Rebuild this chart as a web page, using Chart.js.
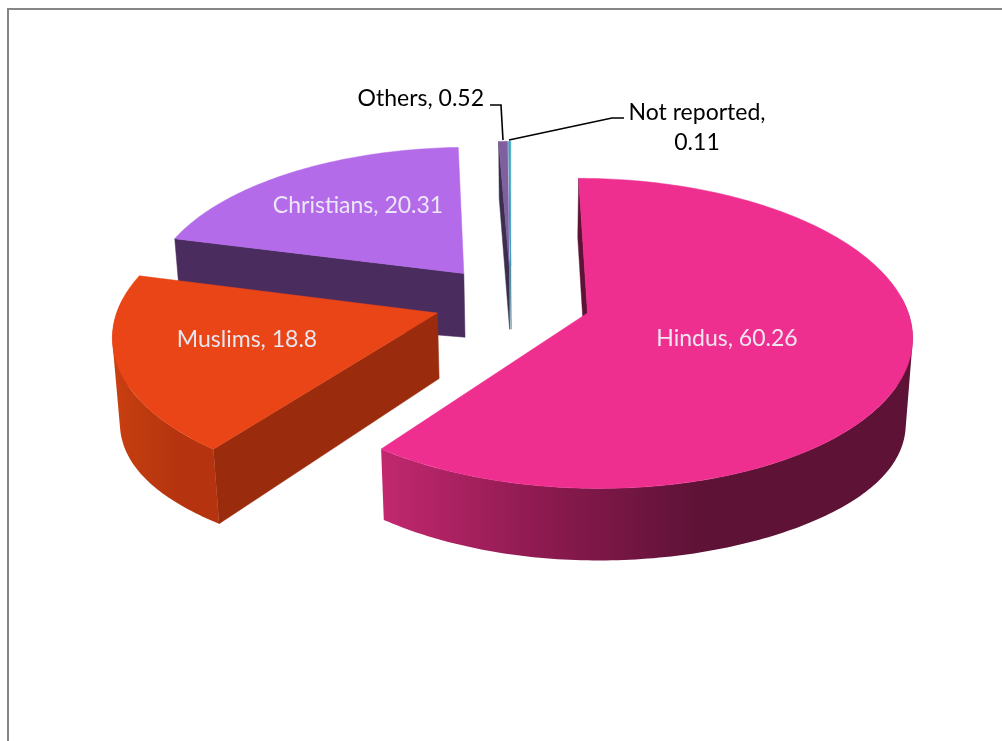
<!DOCTYPE html>
<html>
<head>
<meta charset="utf-8">
<title>Pie</title>
<script src="https://cdn.jsdelivr.net/npm/chart.js@4"></script>
<style>
  html, body { margin: 0; padding: 0; background: #fff; overflow: hidden; }
  #frame { position: absolute; left: 7px; top: 8px; width: 1200px; height: 900px;
           border-left: 2px solid #868686; border-top: 2px solid #868686; }
  #pie { position: absolute; left: 0; top: 0; }
</style>
</head>
<body>
<div id="frame"></div>
<canvas id="pie" width="1002" height="741"></canvas>
<script>
const categories = ['Hindus', 'Muslims', 'Christians', 'Others', 'Not reported'];
const shares = [60.26, 18.8, 20.31, 0.52, 0.11];
const explode = [248, 239.4, 239.4, 239.4, 239.4];
const topColors = ['#EF2F8F', '#EA4516', '#B36BEA', '#7F5FA0', '#3BA6C8'];
const faceColors = ['#5E1236', '#9A2B0D', '#4A2D5E', '#3A2F4E', '#2A6F85'];
const wallColors = [
  ['#C2286F', '#8D1A50', '#5E1236', '#5E1236'],
  ['#C93F10', '#BE3A0F', '#B5340F', '#B5340F'],
  ['#4A2D5E', '#4A2D5E', '#4A2D5E', '#4A2D5E'],
  ['#3A2F4E', '#3A2F4E', '#3A2F4E', '#3A2F4E'],
  ['#2A6F85', '#2A6F85', '#2A6F85', '#2A6F85']
];
const labelLines = [
  { seg: [[categories[0] + ', ' + shares[0]]], x: 727, y: 339, color: '#F1E6F0', align: 'center' },
  { seg: [[categories[1] + ', ' + shares[1]]], x: 247, y: 340, color: '#E9E6F0', align: 'center' },
  { seg: [[categories[2] + ', ' + shares[2]]], x: 358, y: 206, color: '#EDE6F4', align: 'center' },
  { seg: [[categories[3] + ', ' + shares[3]]], x: 484, y: 99, color: '#000', align: 'right' },
  { seg: [[categories[4] + ','], [String(shares[4])]], x: 697, y: 113, color: '#000', align: 'center' }
];
const leaders = [
  [[490, 105], [501, 105], [503, 140]],
  [[509, 140], [612, 118], [624, 118]]
];

// view settings for the tilted pie
const view = { cx: 511, cy: 301, R: 317.5, tilt: 0.47, persp: 0.13, depth: 65, grow: 0.1, side: 0.126, vx: 530, lean: 0.018 };

function project(u, v, z) {
  const w = 1 / (1 - view.persp * v);
  let x = view.cx + view.R * u * w;
  const drop = view.depth * z * (1 + view.grow * v + view.side * u * u * u * u);
  const y = view.cy + view.R * view.tilt * v * w + drop;
  x -= (x - view.vx) * view.lean * z;
  return [x, y];
}

function arcPoint(arc, angle, r, z) {
  const mid = (arc.startAngle + arc.endAngle) / 2;
  const off = (arc.options.offset / 4) / arc.outerRadius;
  return project(Math.cos(mid) * off + Math.cos(angle) * r, Math.sin(mid) * off + Math.sin(angle) * r, z);
}

function rim(arc, from, to, z) {
  const pts = [];
  const n = Math.max(2, Math.ceil((to - from) * 60));
  for (let i = 0; i <= n; i++) {
    pts.push(arcPoint(arc, from + (to - from) * i / n, 1, z));
  }
  return pts;
}

function fillPoly(ctx, pts, fill) {
  ctx.beginPath();
  pts.forEach((p, i) => i ? ctx.lineTo(p[0], p[1]) : ctx.moveTo(p[0], p[1]));
  ctx.closePath();
  ctx.fillStyle = fill;
  ctx.fill();
  ctx.strokeStyle = fill;
  ctx.lineWidth = 0.5;
  ctx.stroke();
}

// all strips in one path, same winding, so there is no seam and no hole
function fillStrips(ctx, upper, lower, fill) {
  ctx.beginPath();
  for (let k = 0; k < upper.length - 1; k++) {
    let q = [upper[k], upper[k + 1], lower[k + 1], lower[k]];
    let area = 0;
    q.forEach((p, j) => {
      const n = q[(j + 1) % 4];
      area += p[0] * n[1] - n[0] * p[1];
    });
    if (area < 0) q = q.reverse();
    q.forEach((p, j) => j ? ctx.lineTo(p[0], p[1]) : ctx.moveTo(p[0], p[1]));
    ctx.closePath();
  }
  ctx.fillStyle = fill;
  ctx.fill();
}

const pie3d = {
  id: 'pie3d',
  beforeDatasetsDraw(chart) {
    const ctx = chart.ctx;
    const arcs = chart.getDatasetMeta(0).data;
    for (let i = arcs.length - 1; i >= 0; i--) {
      const arc = arcs[i];
      const a0 = arc.startAngle, a1 = arc.endAngle;
      // cut face on the start side
      if (Math.sin(a0 - Math.PI / 2) >= -0.01) {
        fillPoly(ctx, [arcPoint(arc, a0, 0, 0), arcPoint(arc, a0, 1, 0), arcPoint(arc, a0, 1, 1), arcPoint(arc, a0, 0, 1)], faceColors[i]);
      }
      // outer wall, front part only
      const from = Math.max(a0, -0.1), to = Math.min(a1, Math.PI + 0.1);
      if (to > from) {
        const upper = rim(arc, from, to, 0);
        const lower = rim(arc, from, to, 1);
        const xs = upper.concat(lower).map(p => p[0]);
        const left = Math.min(...xs), right = Math.max(...xs);
        const grad = ctx.createLinearGradient(left, 0, right, 0);
        grad.addColorStop(0, wallColors[i][0]);
        grad.addColorStop(0.3, wallColors[i][1]);
        grad.addColorStop(0.6, wallColors[i][2]);
        grad.addColorStop(1, wallColors[i][3]);
        fillStrips(ctx, upper, lower, grad);
      }
      // top of the slice
      fillPoly(ctx, [arcPoint(arc, a0, 0, 0)].concat(rim(arc, a0, a1, 0)), topColors[i]);
    }
    return false;
  },
  afterDraw(chart) {
    const ctx = chart.ctx;
    ctx.save();
    ctx.strokeStyle = '#000';
    ctx.lineWidth = 1.6;
    leaders.forEach(line => {
      ctx.beginPath();
      line.forEach((p, i) => i ? ctx.lineTo(p[0], p[1]) : ctx.moveTo(p[0], p[1]));
      ctx.stroke();
    });
    ctx.font = '23px Lato';
    ctx.textBaseline = 'middle';
    labelLines.forEach(l => {
      ctx.fillStyle = l.color;
      ctx.textAlign = l.align;
      l.seg.forEach((s, k) => ctx.fillText(s[0], l.x, l.y + k * 30));
    });
    ctx.restore();
  }
};

const chartPie = new Chart(document.getElementById('pie').getContext('2d'), {
  type: 'pie',
  data: {
    labels: categories,
    datasets: [{ data: shares, backgroundColor: topColors, borderWidth: 0, offset: explode, hoverOffset: 0 }]
  },
  options: {
    responsive: false,
    animation: false,
    layout: { padding: 0 },
    plugins: { legend: { display: false }, tooltip: { enabled: false } }
  },
  plugins: [pie3d]
});
</script>
</body>
</html>
